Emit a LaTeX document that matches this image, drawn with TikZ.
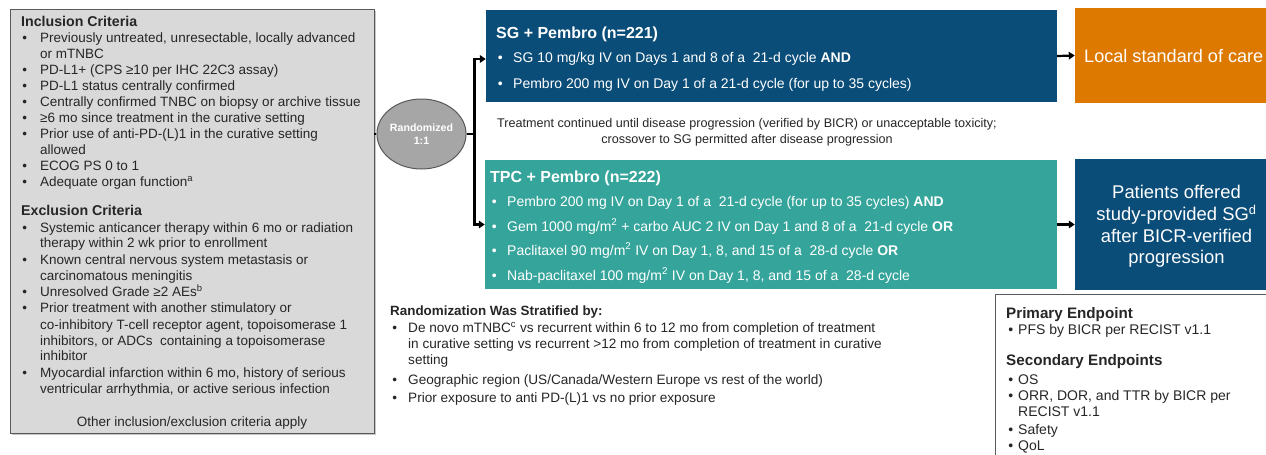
\documentclass[tikz,border=0pt]{standalone}
\usepackage{fontspec}
\setmainfont{Liberation Sans}
\usetikzlibrary{arrows.meta,shapes.geometric}
\definecolor{navy}{HTML}{0B4D79}
\definecolor{teal2}{HTML}{35A59C}
\definecolor{orng}{HTML}{DE7900}
\definecolor{lgray}{HTML}{D9D9D9}
\definecolor{mgray}{HTML}{A6A6A6}
\definecolor{dgray}{HTML}{595959}
\definecolor{txtc}{HTML}{262626}
\newcommand\bu[1]{\llap{\textbullet\hspace{#1}}}
\begin{document}
\begin{tikzpicture}[x=1pt,y=-1pt,
  t/.style={anchor=base west,inner sep=0pt,text=txtc,font=\fontsize{13.5}{16}\selectfont},
  hd/.style={anchor=base west,inner sep=0pt,text=txtc,font=\bfseries\fontsize{14.2}{16}\selectfont},
  wt/.style={anchor=base west,inner sep=0pt,text=white,font=\fontsize{14}{16}\selectfont},
  wh/.style={anchor=base west,inner sep=0pt,text=white,font=\bfseries\fontsize{16}{19}\selectfont},
  st/.style={anchor=base west,inner sep=0pt,text=txtc,font=\fontsize{13.6}{16}\selectfont},
  et/.style={anchor=base west,inner sep=0pt,text=txtc,font=\fontsize{14}{16}\selectfont},
  eh/.style={anchor=base west,inner sep=0pt,text=txtc,font=\bfseries\fontsize{15.2}{18}\selectfont},
  box/.style={rectangle,inner sep=0pt},
  conn/.style={line width=2.2pt,black},
  arr/.style={conn,-{Triangle[length=6pt,width=7.5pt]}}
]
\useasboundingbox (0,0) rectangle (1266,455);
\fill[white] (0,0) rectangle (1266,455);

% ---- criteria box ----
\fill[gray!45] (11.5,10.5) rectangle (376,435);
\node[box,fill=lgray,draw=dgray,line width=0.9pt,minimum width=364pt,minimum height=424pt] (crit) at (192,221) {};
\node[hd] (inch) at (21,26.5) {Inclusion Criteria};
\node[t] (i1) at (40,42.5) {\bu{13pt}Previously untreated, unresectable, locally advanced};
\node[t] (i1b) at (40,58.5) {or mTNBC};
\node[t] (i2) at (40,74.5) {\bu{13pt}PD-L1+ (CPS ≥10 per IHC 22C3 assay)};
\node[t] (i3) at (40,90.5) {\bu{13pt}PD-L1 status centrally confirmed};
\node[t] (i4) at (40,106.5) {\bu{13pt}Centrally confirmed TNBC on biopsy or archive tissue};
\node[t] (i5) at (40,122.5) {\bu{13pt}≥6 mo since treatment in the curative setting};
\node[t] (i6) at (40,138.5) {\bu{13pt}Prior use of anti-PD-(L)1 in the curative setting};
\node[t] (i6b) at (40,154.5) {allowed};
\node[t] (i7) at (40,170.5) {\bu{13pt}ECOG PS 0 to 1};
\node[t] (i8) at (40,186.5) {\bu{13pt}Adequate organ function\textsuperscript{a}};
\node[hd] (exh) at (21,215.5) {Exclusion Criteria};
\node[t] (e1) at (40,232.5) {\bu{13pt}Systemic anticancer therapy within 6 mo or radiation};
\node[t] (e1b) at (40,247.5) {therapy within 2 wk prior to enrollment};
\node[t] (e2) at (40,264.5) {\bu{13pt}Known central nervous system metastasis or};
\node[t] (e2b) at (40,280.5) {carcinomatous meningitis};
\node[t] (e3) at (40,296.5) {\bu{13pt}Unresolved Grade ≥2 AEs\textsuperscript{b}};
\node[t] (e4) at (40,312.5) {\bu{13pt}Prior treatment with another stimulatory or};
\node[t] (e4b) at (40,329) {co-inhibitory T-cell receptor agent, topoisomerase 1};
\node[t] (e4c) at (40,345) {inhibitors, or ADCs\ \ containing a topoisomerase};
\node[t] (e4d) at (40,360.5) {inhibitor};
\node[t] (e5) at (40,377.5) {\bu{13pt}Myocardial infarction within 6 mo, history of serious};
\node[t] (e5b) at (40,393.5) {ventricular arrhythmia, or active serious infection};
\node[t,anchor=base] (oth) at (192,426.5) {Other inclusion/exclusion criteria apply};

% ---- randomization ----
\node[ellipse,fill=mgray,draw=dgray,line width=1pt,minimum width=77pt,minimum height=70pt,inner sep=0pt,
      text=white,align=center,font=\bfseries\fontsize{10.6}{13}\selectfont] (rand) at (421.5,134) {Randomized\\1:1};

% ---- arm boxes ----
\node[box,fill=navy,minimum width=571pt,minimum height=92pt] (sg) at (771.5,56) {};
\node[wh] (sgt) at (496,38) {SG + Pembro (n=221)};
\node[wt] (sg1) at (513,62) {\bu{10.5pt}SG 10 mg/kg IV on Days 1 and 8 of a\ \ 21-d cycle \textbf{AND}};
\node[wt] (sg2) at (513,88) {\bu{10.5pt}Pembro 200 mg IV on Day 1 of a 21-d cycle (for up to 35 cycles)};

\node[box,fill=teal2,minimum width=572pt,minimum height=129pt] (tpc) at (771,224.5) {};
\node[wh] (tpct) at (490,182) {TPC + Pembro (n=222)};
\node[wt] (t1) at (507,206) {\bu{10.5pt}Pembro 200 mg IV on Day 1 of a\ \ 21-d cycle (for up to 35 cycles) \textbf{AND}};
\node[wt] (t2) at (507,231) {\bu{10.5pt}Gem 1000 mg/m\textsuperscript{2} + carbo AUC 2 IV on Day 1 and 8 of a\ \ 21-d cycle \textbf{OR}};
\node[wt] (t3) at (507,255) {\bu{10.5pt}Paclitaxel 90 mg/m\textsuperscript{2} IV on Day 1, 8, and 15 of a\ \ 28-d cycle \textbf{OR}};
\node[wt] (t4) at (507,280) {\bu{10.5pt}Nab-paclitaxel 100 mg/m\textsuperscript{2} IV on Day 1, 8, and 15 of a\ \ 28-d cycle};

\node[inner sep=0pt,text=txtc,align=center,font=\fontsize{12.6}{16}\selectfont,anchor=north] (cont) at (747,118)
  {Treatment continued until disease progression (verified by BICR) or unacceptable toxicity;\\crossover to SG permitted after disease progression};

% ---- outcome boxes ----
\node[box,fill=orng,minimum width=205pt,minimum height=95pt] (soc) at (1177.5,55.5) {};
\node[anchor=base west,inner sep=0pt,text=white,font=\fontsize{18.1}{22}\selectfont] (soct) at (1084,62.5) {Local standard of care};
\node[box,fill=navy,minimum width=205pt,minimum height=131pt,text=white,align=center,
      font=\fontsize{18.4}{21.7}\selectfont] (offer) at (1177.5,224.5) {};
\node[text=white,align=center,inner sep=0pt,font=\fontsize{18.4}{21.7}\selectfont] (offt) at (1176.5,226.5)
  {Patients offered\\study-provided SG\textsuperscript{d}\\after BICR-verified\\progression};

% ---- connectors ----
\draw[conn] (rand.west -| crit.east) -- (rand.west);
\draw[conn] (rand.east) -- ++(8,0) coordinate (fork);
\draw[arr] (fork) |- ([yshift=-3pt]sg.west);
\draw[arr] (fork) |- (tpc.west);
\draw[arr] (sg.east) -- (soc.west);
\draw[arr] (tpc.east) -- (offer.west);

% ---- stratification ----
\node[anchor=base west,inner sep=0pt,text=txtc,font=\bfseries\fontsize{13.4}{16}\selectfont] (sth) at (390,315) {Randomization Was Stratified by:};
\node[st] (s1) at (408,332.5) {\bu{11pt}De novo mTNBC\textsuperscript{c} vs recurrent within 6 to 12 mo from completion of treatment};
\node[st] (s1b) at (408,348.5) {in curative setting vs recurrent >12 mo from completion of treatment in curative};
\node[st] (s1c) at (408,364.5) {setting};
\node[st] (s2) at (408,384.5) {\bu{11pt}Geographic region (US/Canada/Western Europe vs rest of the world)};
\node[st] (s3) at (408,402.5) {\bu{11pt}Prior exposure to anti PD-(L)1 vs no prior exposure};

% ---- endpoints ----
\node[box,draw=dgray,line width=0.9pt,fill=white,minimum width=285pt,minimum height=176pt] (ep) at (1137.5,382) {};
\node[eh] (eph) at (1006,318.5) {Primary Endpoint};
\node[et] (p1) at (1018,334.5) {\bu{5pt}PFS by BICR per RECIST v1.1};
\node[eh] (esh) at (1006,365.5) {Secondary Endpoints};
\node[et] (q1) at (1018,384) {\bu{5pt}OS};
\node[et] (q2) at (1018,400.5) {\bu{5pt}ORR, DOR, and TTR by BICR per};
\node[et] (q2b) at (1018,416) {RECIST v1.1};
\node[et] (q3) at (1018,434.5) {\bu{5pt}Safety};
\node[et] (q4) at (1018,450.5) {\bu{5pt}QoL};
\end{tikzpicture}
\end{document}
